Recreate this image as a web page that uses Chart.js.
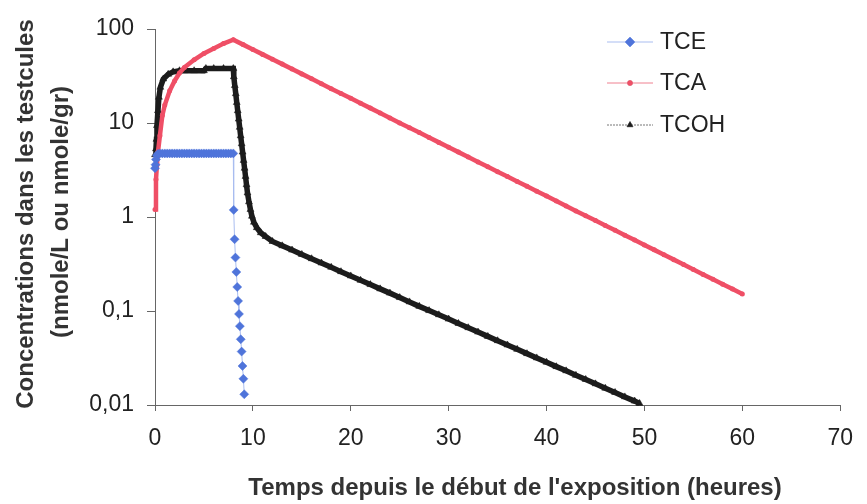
<!DOCTYPE html>
<html>
<head>
<meta charset="utf-8">
<script src="https://cdn.jsdelivr.net/npm/chart.js@4.4.1/dist/chart.umd.min.js"></script>
<style>
  html, body { margin: 0; padding: 0; background: #fff; }
  #wrap { width: 867px; height: 504px; }
</style>
</head>
<body>
<div id="wrap"><canvas id="chart" width="867" height="504"></canvas></div>
<script>
const FONT = "'Liberation Sans', Arial, sans-serif";

// TCE (diamants bleus)
const tceHours = [0, 0.05, 0.1, 0.2, 0.3,
  0.5, 0.75, 1, 1.25, 1.5, 1.75, 2, 2.25, 2.5, 2.75, 3, 3.25, 3.5, 3.75, 4, 4.25,
  4.5, 4.75, 5, 5.25, 5.5, 5.75, 6, 6.25, 6.5, 6.75, 7, 7.25, 7.5, 7.75, 8,
  8.04, 8.13, 8.22, 8.31, 8.4, 8.49, 8.58, 8.67, 8.76, 8.85, 8.94, 9.03, 9.12];
const tceConc = [3.3, 3.6, 4.1, 4.5, 4.7,
  4.75, 4.75, 4.75, 4.75, 4.75, 4.75, 4.75, 4.75, 4.75, 4.75, 4.75, 4.75, 4.75, 4.75, 4.75, 4.75,
  4.75, 4.75, 4.75, 4.75, 4.75, 4.75, 4.75, 4.75, 4.75, 4.75, 4.75, 4.75, 4.75, 4.75, 4.75,
  1.19, 0.58, 0.37, 0.26, 0.18, 0.128, 0.093, 0.069, 0.05, 0.037, 0.026, 0.019, 0.013];

// TCA (points rouges)
const tcaHours = [0, 0.1, 0.2, 0.3, 0.5, 0.75, 1, 1.5, 2, 2.5, 3, 4, 5, 6, 7, 8,
  9, 10, 11, 12, 13, 14, 15, 16, 17, 18, 19, 20, 21, 22, 23, 24, 25, 26, 27, 28,
  29, 30, 31, 32, 33, 34, 35, 36, 37, 38, 39, 40, 41, 42, 43, 44, 45, 46, 47, 48,
  49, 50, 51, 52, 53, 54, 55, 56, 57, 58, 59, 60];
const tcaConc = [1.2, 2.5, 3.6, 4.9, 7.3, 12, 15.5, 22, 28, 34, 39, 47, 55, 62, 70, 77,
  68.2, 60.5, 53.7, 47.6, 42.3, 37.5, 33.3, 29.5, 26.2, 23.2, 20.6, 18.3, 16.2, 14.4, 12.8, 11.3, 10.0, 8.91, 7.91, 7.01,
  6.22, 5.52, 4.90, 4.35, 3.85, 3.42, 3.03, 2.69, 2.39, 2.12, 1.88, 1.67, 1.48, 1.31, 1.16, 1.03, 0.916, 0.813, 0.721, 0.640,
  0.568, 0.504, 0.447, 0.396, 0.352, 0.312, 0.277, 0.245, 0.218, 0.193, 0.171, 0.152];

// TCOH (triangles noirs)
const tcohHours = [0, 0.1, 0.15, 0.2, 0.3, 0.4, 0.55, 0.85, 1.35, 1.85,
  2.5, 3, 4, 5, 5.2, 6, 7, 8,
  8.05, 8.15, 8.25, 8.35, 8.45, 8.55, 8.65, 8.75, 8.85, 8.95, 9.05, 9.15, 9.25, 9.35, 9.45,
  9.6, 9.75, 9.9, 10.1, 10.4, 10.8, 11.3, 12,
  13, 14, 15, 16, 17, 18, 19, 20, 21, 22, 23, 24, 25, 26, 27, 28, 29, 30, 31, 32,
  33, 34, 35, 36, 37, 38, 39, 40, 41, 42, 43, 44, 45, 46, 47, 48, 49, 49.5];
const tcohConc = [4.6, 5.3, 6.7, 9.4, 13.5, 18.8, 24, 29.4, 33, 35,
  36, 36, 36, 36, 38, 38, 38, 38,
  31, 25, 20.5, 16.5, 13.5, 11, 9, 7.3, 6, 4.9, 4.0, 3.3, 2.7, 2.2, 1.8,
  1.45, 1.2, 1.02, 0.88, 0.77, 0.68, 0.62, 0.55,
  0.494, 0.445, 0.400, 0.360, 0.324, 0.292, 0.262, 0.236, 0.212, 0.191, 0.172, 0.155, 0.139, 0.125, 0.112, 0.101, 0.0912, 0.082, 0.0738, 0.0664,
  0.0597, 0.0537, 0.0483, 0.0435, 0.0391, 0.0352, 0.0317, 0.0285, 0.0256, 0.0231, 0.0207, 0.0187, 0.0168, 0.0151, 0.0136, 0.0122, 0.011, 0.0104];

const yTickValues = [0.01, 0.1, 1, 10, 100];
const yTickLabels = ["0,01", "0,1", "1", "10", "100"];
const xTickValues = [0, 10, 20, 30, 40, 50, 60, 70];

const seriesNames = ["TCE", "TCA", "TCOH"];
const xTitle = "Temps depuis le début de l'exposition (heures)";
const yTitle = ["Concentrations dans les testcules", "(nmole/L ou nmole/gr)"];

const toPoints = (xs, ys) => xs.map((x, i) => ({x, y: ys[i]}));

const titlesPlugin = {
  id: "titles",
  afterDraw(chart) {
    const ctx = chart.ctx;
    ctx.save();
    ctx.fillStyle = "#333";
    ctx.font = `bold 24px ${FONT}`;
    ctx.textAlign = "center";
    ctx.textBaseline = "middle";
    ctx.fillText(xTitle, 515, 488);
    [[26, 214], [61, 212]].forEach(([x, y], i) => {
      ctx.save();
      ctx.translate(x, y);
      ctx.rotate(-Math.PI / 2);
      ctx.fillText(yTitle[i], 0, 0);
      ctx.restore();
    });
    ctx.restore();
  }
};

// legende dessinee a la main, en haut a droite
const legendPlugin = {
  id: "sideLegend",
  afterDraw(chart) {
    const ctx = chart.ctx;
    const rows = [42, 83, 125];
    ctx.save();
    chart.data.datasets.forEach((ds, i) => {
      const y = rows[i];
      ctx.strokeStyle = ds.legendLine;
      ctx.lineWidth = 1;
      ctx.setLineDash(i === 2 ? [2, 1] : []);
      ctx.beginPath();
      ctx.moveTo(607, y);
      ctx.lineTo(653, y);
      ctx.stroke();
      ctx.setLineDash([]);
      Chart.helpers.drawPoint(ctx, {
        pointStyle: ds.pointStyle,
        radius: ds.legendRadius,
        rotation: 0,
        borderWidth: 1
      }, 630, y);
      ctx.fillStyle = ds.pointBackgroundColor;
      ctx.strokeStyle = ds.pointBorderColor;
      ctx.fill();
      ctx.fillStyle = "#222";
      ctx.font = `23px ${FONT}`;
      ctx.textAlign = "left";
      ctx.textBaseline = "middle";
      ctx.fillText(ds.label, 660, y + 1);
    });
    ctx.restore();
  }
};

new Chart(document.getElementById("chart").getContext("2d"), {
  type: "scatter",
  data: {
    datasets: [
      {
        label: seriesNames[0],
        data: toPoints(tceHours, tceConc),
        showLine: true,
        borderColor: "#a9bdf0",
        borderWidth: 1,
        pointStyle: "rectRot",
        pointRadius: 4.5,
        pointBackgroundColor: "#4f74da",
        pointBorderColor: "#4f74da",
        pointBorderWidth: 0.5,
        legendLine: "#a9bdf0",
        legendRadius: 5,
        clip: false
      },
      {
        label: seriesNames[1],
        data: toPoints(tcaHours, tcaConc),
        showLine: true,
        borderColor: "#ef4f66",
        borderWidth: 4.5,
        pointStyle: "circle",
        pointRadius: 2.5,
        pointBackgroundColor: "#ef4f66",
        pointBorderColor: "#ef4f66",
        pointBorderWidth: 0,
        legendLine: "#ef8090",
        legendRadius: 2.5,
        clip: false
      },
      {
        label: seriesNames[2],
        data: toPoints(tcohHours, tcohConc),
        showLine: true,
        borderColor: "#1c1c1c",
        borderWidth: 5.5,
        pointStyle: "triangle",
        pointRadius: 4,
        pointBackgroundColor: "#1c1c1c",
        pointBorderColor: "#1c1c1c",
        pointBorderWidth: 0.5,
        legendLine: "#777",
        legendRadius: 3.5,
        clip: false
      }
    ]
  },
  options: {
    responsive: false,
    animation: false,
    layout: {padding: {top: 29, right: 20, left: 0, bottom: 0}},
    plugins: {
      legend: {display: false},
      tooltip: {enabled: false}
    },
    scales: {
      x: {
        type: "linear",
        min: 0,
        max: 70,
        afterFit: s => { s.height = 99; },
        afterBuildTicks: s => { s.ticks = xTickValues.map(v => ({value: v})); },
        grid: {display: true, drawOnChartArea: false, drawTicks: true, tickLength: 6, color: "#666"},
        border: {display: true, color: "#666", width: 1},
        ticks: {color: "#222", font: {family: FONT, size: 23}, padding: 14, maxRotation: 0}
      },
      y: {
        type: "logarithmic",
        min: 0.01,
        max: 100,
        afterFit: s => { s.width = 155; },
        afterBuildTicks: s => { s.ticks = yTickValues.map(v => ({value: v})); },
        grid: {display: true, drawOnChartArea: false, drawTicks: true, tickLength: 8, color: "#666"},
        border: {display: true, color: "#666", width: 1},
        ticks: {
          color: "#222",
          font: {family: FONT, size: 23},
          padding: 13,
          callback: v => {
            const i = yTickValues.indexOf(v);
            return i >= 0 ? yTickLabels[i] : "";
          }
        }
      }
    }
  },
  plugins: [titlesPlugin, legendPlugin]
});
</script>
</body>
</html>
